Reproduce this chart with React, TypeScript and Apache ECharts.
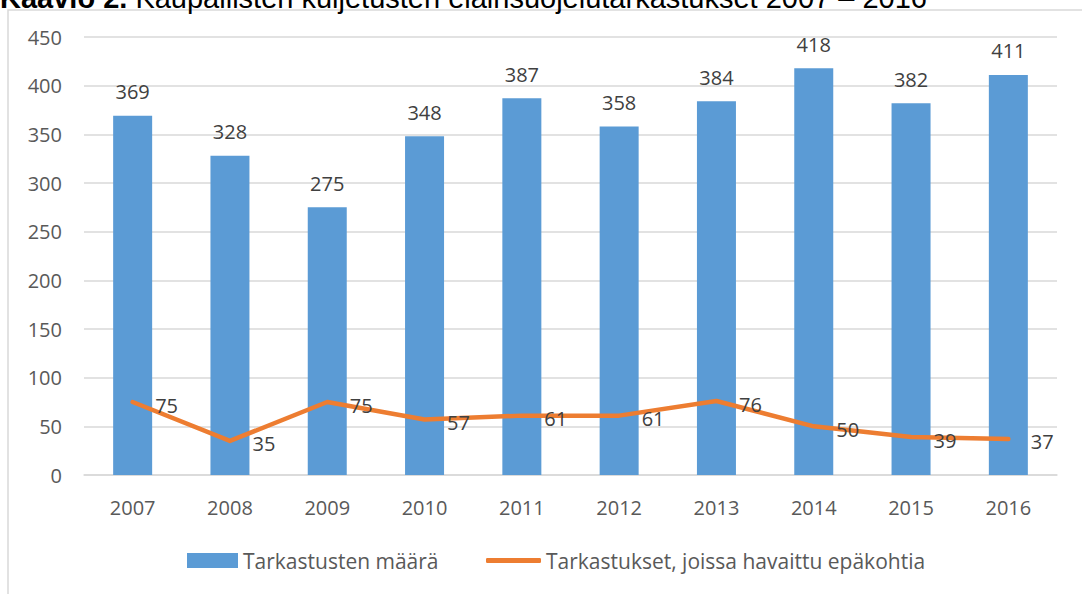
import React, { useEffect, useRef } from "react";
import * as echarts from "echarts";

const years = ["2007", "2008", "2009", "2010", "2011", "2012", "2013", "2014", "2015", "2016"];
const inspections = [369, 328, 275, 348, 387, 358, 384, 418, 382, 411];
const withIssues = [75, 35, 75, 57, 61, 61, 76, 50, 39, 37];
const yTicks = { min: 0, max: 450, interval: 50 };
const titleBold = "Kaavio 2.";
const titleRest = " Kaupallisten kuljetusten eläinsuojelutarkastukset 2007 – 2016";
const barName = "Tarkastusten määrä";
const lineName = "Tarkastukset, joissa havaittu epäkohtia";

const FONT = "'Open Sans', sans-serif";
const TFONT = "'Liberation Sans', Arial, sans-serif";

export default function App() {
  const ref = useRef<HTMLDivElement>(null);
  useEffect(() => {
    if (!ref.current) return;
    const chart = echarts.init(ref.current, null, { renderer: "svg" });
    chart.setOption({
      animation: false,
      backgroundColor: "#ffffff",
      textStyle: { fontFamily: FONT },
      graphic: [
        {
          type: "rect",
          shape: { x: 8, y: 10, width: 1100, height: 620 },
          style: { fill: "none", stroke: "#d9d9d9", lineWidth: 1.5 },
          silent: true,
          z: -1,
        },
        {
          type: "text",
          x: 0,
          y: -17,
          style: {
            text: "{b|" + titleBold + "}{r|" + titleRest + "}",
            fill: "#000000",
            verticalAlign: "top",
            rich: {
              b: { fontFamily: TFONT, fontWeight: "bold", fontSize: 29, fill: "#000000" },
              r: { fontFamily: TFONT, fontWeight: "normal", fontSize: 29, fill: "#000000" },
            },
          },
        },
      ],
      grid: { left: 84, right: 1082 - 1057, top: 37, bottom: 594 - 475, containLabel: false },
      legend: [
        {
          data: [{ name: barName, icon: "rect" }],
          left: 182,
          top: 545,
          itemWidth: 51,
          itemHeight: 15,
          textStyle: { color: "#595959", fontSize: 21, fontFamily: FONT },
        },
        {
          data: [{ name: lineName, icon: "roundRect" }],
          left: 481,
          top: 545,
          itemWidth: 55,
          itemHeight: 5,
          textStyle: { color: "#595959", fontSize: 21, fontFamily: FONT },
        },
      ],
      xAxis: {
        type: "category",
        data: years,
        axisLine: { show: true, lineStyle: { color: "#d9d9d9", width: 1.5 } },
        axisTick: { show: false },
        axisLabel: { color: "#595959", fontSize: 20, margin: 22, fontFamily: FONT },
      },
      yAxis: {
        type: "value",
        min: yTicks.min,
        max: yTicks.max,
        interval: yTicks.interval,
        axisLine: { show: false },
        axisTick: { show: false },
        splitLine: { lineStyle: { color: "#d9d9d9", width: 1.5 } },
        axisLabel: { color: "#595959", fontSize: 20, margin: 22, fontFamily: FONT },
      },
      series: [
        {
          name: barName,
          type: "bar",
          data: inspections,
          barWidth: 39,
          itemStyle: { color: "#5B9BD5" },
          label: {
            show: true,
            position: "top",
            distance: 14,
            color: "#404040",
            fontSize: 20,
            fontFamily: FONT,
          },
        },
        {
          name: lineName,
          type: "line",
          data: withIssues,
          symbol: "circle",
          symbolSize: 1,
          showSymbol: true,
          itemStyle: { color: "#ED7D31" },
          lineStyle: { color: "#ED7D31", width: 4.5, cap: "round", join: "round" },
          label: {
            show: true,
            position: "right",
            distance: 22,
            offset: [0, 3],
            color: "#404040",
            fontSize: 20,
            fontFamily: FONT,
          },
        },
      ],
    });
    return () => chart.dispose();
  }, []);
  return (
    <div
      ref={ref}
      style={{ position: "fixed", left: 0, top: 0, width: 1082, height: 594 }}
    />
  );
}
